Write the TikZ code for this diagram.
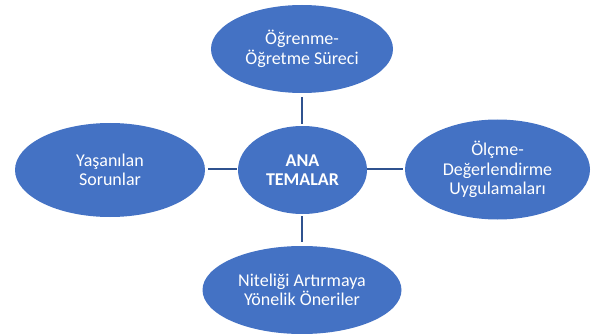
\documentclass[tikz,border=0pt]{standalone}
\usepackage{fontspec}
\setmainfont{Carlito}
\usetikzlibrary{shapes.geometric}
\definecolor{bluefill}{HTML}{4472C4}
\definecolor{linkcol}{HTML}{2F528F}
\begin{document}
\begin{tikzpicture}[x=1pt,y=-1pt,
  theme/.style={ellipse, fill=bluefill, inner sep=0pt, text=white, align=center, font=\fontsize{18}{19.5}\selectfont},
  link/.style={draw=linkcol, line width=2.6pt}]
\useasboundingbox (0,0) rectangle (591,334);
\node[theme, minimum width=182, minimum height=88] (top) at (302,49) {Öğrenme-\\Öğretme Süreci};
\node[theme, minimum width=129, minimum height=88, font=\bfseries\fontsize{18}{19.5}\selectfont] (mid) at (302.5,170) {ANA\\TEMALAR};
\node[theme, minimum width=190, minimum height=94] (left) at (110,170) {Yaşanılan\\Sorunlar};
\node[theme, minimum width=185, minimum height=100] (right) at (497.5,169.5) {Ölçme-\\Değerlendirme\\Uygulamaları};
\node[theme, minimum width=199, minimum height=88] (bot) at (302,290) {Niteliği Artırmaya\\Yönelik Öneriler};
\coordinate (t1) at (302,97); \coordinate (t2) at (302,124);
\coordinate (b1) at (302,216); \coordinate (b2) at (302,242);
\coordinate (l1) at (208,169); \coordinate (l2) at (237,169);
\coordinate (r1) at (367,169); \coordinate (r2) at (403,169);
\draw[link] (t1) -- (t2);
\draw[link] (b1) -- (b2);
\draw[link] (l1) -- (l2);
\draw[link] (r1) -- (r2);
\end{tikzpicture}
\end{document}
